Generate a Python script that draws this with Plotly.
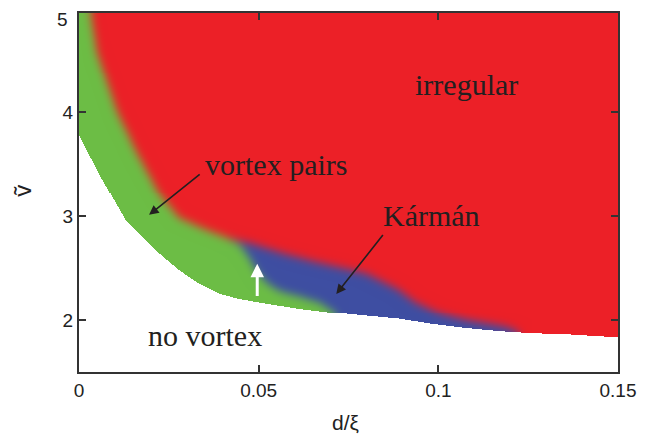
import numpy as np
import plotly.graph_objects as go

# ---- data ----
# lower boundary of the vortex-shedding region (below: no vortex)
low_x = [0, 0.0056, 0.0131, 0.0223, 0.0278, 0.0334, 0.039, 0.0445, 0.052, 0.0612, 0.0704, 0.0799,
         0.0891, 0.0983, 0.1077, 0.1169, 0.1261, 0.1356, 0.15]
low_y = [3.78, 3.40, 2.95, 2.64, 2.48, 2.35, 2.255, 2.205, 2.16, 2.11, 2.07, 2.04,
         2.01, 1.96, 1.92, 1.89, 1.87, 1.86, 1.83]
# boundary vortex pairs (green) / irregular (red)
gr_x = [0.003, 0.005, 0.0106, 0.0159, 0.0223, 0.0278, 0.0343, 0.041]
gr_y = [5.0, 4.57, 4.0, 3.62, 3.21, 2.98, 2.88, 2.79]
# boundary vortex pairs (green) / Karman (blue)
gb_x = [0.041, 0.0445, 0.0473, 0.0493, 0.0521, 0.0557, 0.0612, 0.0668, 0.0715]
gb_y = [2.79, 2.73, 2.60, 2.47, 2.36, 2.28, 2.23, 2.17, 2.065]
# boundary Karman (blue) / irregular (red)
br_x = [0.041, 0.0482, 0.0577, 0.0668, 0.0799, 0.0891, 0.0938, 0.1, 0.1077, 0.119, 0.1225]
br_y = [2.79, 2.73, 2.63, 2.55, 2.45, 2.29, 2.17, 2.07, 2.0, 1.93, 1.88]

x_ticks = [0, 0.05, 0.1, 0.15]
x_ticktext = ["0", "0.05", "0.1", "0.15"]
y_ticks = [2, 3, 4]
y_ticktext = ["2", "3", "4"]

labels = ["irregular", "vortex pairs", "Kármán", "no vortex"]
label_x = [0.1077, 0.0548, 0.098, 0.0351]
label_y = [4.26, 3.495, 3.0, 1.85]

# arrows: (tail x, tail y, tip x, tip y)
arrow_vp = [0.034, 3.41, 0.0195, 3.01]
arrow_k = [0.0849, 2.83, 0.0716, 2.25]
arrow_w = [0.0496, 2.215, 0.0496, 2.54]

XMAX = 0.15
YMIN, YMAX = 1.5, 4.95

col_red = np.array([236, 32, 39], float)
col_green = np.array([108, 189, 69], float)
col_blue = np.array([62, 78, 162], float)

# ---- raster of the phase diagram ----
nx, ny = 540, 362
dx = XMAX / nx
dy = (YMAX - YMIN) / ny
xc = (np.arange(nx) + 0.5) * dx
yc = YMIN + (np.arange(ny) + 0.5) * dy
X, Y = np.meshgrid(xc, yc)


def in_poly(px, py, X, Y):
    inside = np.zeros(X.shape, bool)
    n = len(px)
    for i in range(n):
        x1, y1 = px[i], py[i]
        x2, y2 = px[(i + 1) % n], py[(i + 1) % n]
        if y1 == y2:
            continue
        cond = (y1 > Y) != (y2 > Y)
        xint = x1 + (Y - y1) * (x2 - x1) / (y2 - y1)
        inside ^= cond & (X < xint)
    return inside


# green polygon
g_px = [-0.01, -0.01, gr_x[0]] + gr_x + gb_x[1:] + [gb_x[-1]]
g_py = [1.0, 5.5, 5.5] + gr_y + gb_y[1:] + [1.0]
green = in_poly(g_px, g_py, X, Y).astype(float)

# blue polygon
b_px = br_x + [br_x[-1]] + [gb_x[-1]] + gb_x[::-1][:-1]
b_py = br_y + [1.0] + [1.0] + gb_y[::-1][:-1]
blue = in_poly(b_px, b_py, X, Y).astype(float)
blue = blue * (1 - green)
red = 1 - green - blue


def blur(a, sigma):
    r = int(3 * sigma)
    k = np.exp(-0.5 * (np.arange(-r, r + 1) / sigma) ** 2)
    k /= k.sum()
    p = np.pad(a, r, mode="edge")
    out = np.zeros_like(p)
    for i, w in enumerate(k):
        out[:, r:-r] += w * p[:, i:i + p.shape[1] - 2 * r]
    p2 = out[:, r:-r]
    out2 = np.zeros((a.shape[0], a.shape[1]))
    for i, w in enumerate(k):
        out2 += w * p2[i:i + a.shape[0], :]
    return out2


s = 4.5
wg = blur(green, s)
wb = blur(blue, s)
wr = blur(red, s)
tot = wg + wb + wr
img = (wg[..., None] * col_green + wb[..., None] * col_blue + wr[..., None] * col_red) / tot[..., None]

ylow = np.interp(xc, low_x, low_y)
mask = (Y >= ylow[None, :])
img[~mask] = 255
img = np.clip(img, 0, 255).astype(np.uint8)

fig = go.Figure()
fig.add_trace(go.Image(z=img.tolist(), x0=dx / 2, dx=dx, y0=YMIN + dy / 2, dy=dy,
                       hoverinfo="skip"))

tick_font = dict(family="Liberation Sans, Arial, sans-serif", size=19, color="#222")
axis_common = dict(showgrid=False, zeroline=False, showline=True, linecolor="#333",
                   linewidth=2, mirror="ticks", ticks="inside", ticklen=7,
                   tickwidth=1.5, tickcolor="#333", tickfont=tick_font)
fig.update_layout(
    width=659, height=435,
    margin=dict(l=79, r=41, t=11, b=63),
    paper_bgcolor="white", plot_bgcolor="white",
    showlegend=False,
    xaxis=dict(range=[0, XMAX], tickvals=x_ticks, ticktext=x_ticktext, **axis_common),
    yaxis=dict(range=[YMIN, YMAX], tickvals=y_ticks, ticktext=y_ticktext,
               autorange=False, scaleanchor=False, **axis_common),
)

serif = dict(family="Liberation Serif, Times New Roman, serif", size=30, color="#231f20")
for t, lx, ly in zip(labels, label_x, label_y):
    fig.add_annotation(x=lx, y=ly, xref="x", yref="y", text=t, showarrow=False,
                       font=serif, xanchor="center", yanchor="middle")

for a, c, w in [(arrow_vp, "#231f20", 1.6), (arrow_k, "#231f20", 1.6), (arrow_w, "white", 3)]:
    fig.add_annotation(x=a[2], y=a[3], ax=a[0], ay=a[1], xref="x", yref="y",
                       axref="x", ayref="y", text="", showarrow=True,
                       arrowhead=2, arrowsize=1.2 if w < 2 else 0.9, arrowwidth=w, arrowcolor=c)

# top y tick label "5" (at upper frame edge)
fig.add_annotation(x=0, y=1, xref="paper", yref="paper", text="5", showarrow=False,
                   font=tick_font, xanchor="right", yanchor="middle", xshift=-9, yshift=-6)
# axis titles
fig.add_annotation(x=-0.104, y=0.505, xref="paper", yref="paper", text="ṽ", showarrow=False,
                   font=dict(family="Liberation Sans, DejaVu Sans, sans-serif", size=24, color="#222"),
                   textangle=-90, xanchor="center", yanchor="middle")
fig.add_annotation(x=0.494, y=-0.1415, xref="paper", yref="paper", text="d/ξ", showarrow=False,
                   font=dict(family="Liberation Sans, DejaVu Sans, sans-serif", size=21, color="#222"),
                   xanchor="center", yanchor="middle")

fig.write_html("out.html", config={"displayModeBar": False},
               post_script="document.body.style.margin='0px';")
